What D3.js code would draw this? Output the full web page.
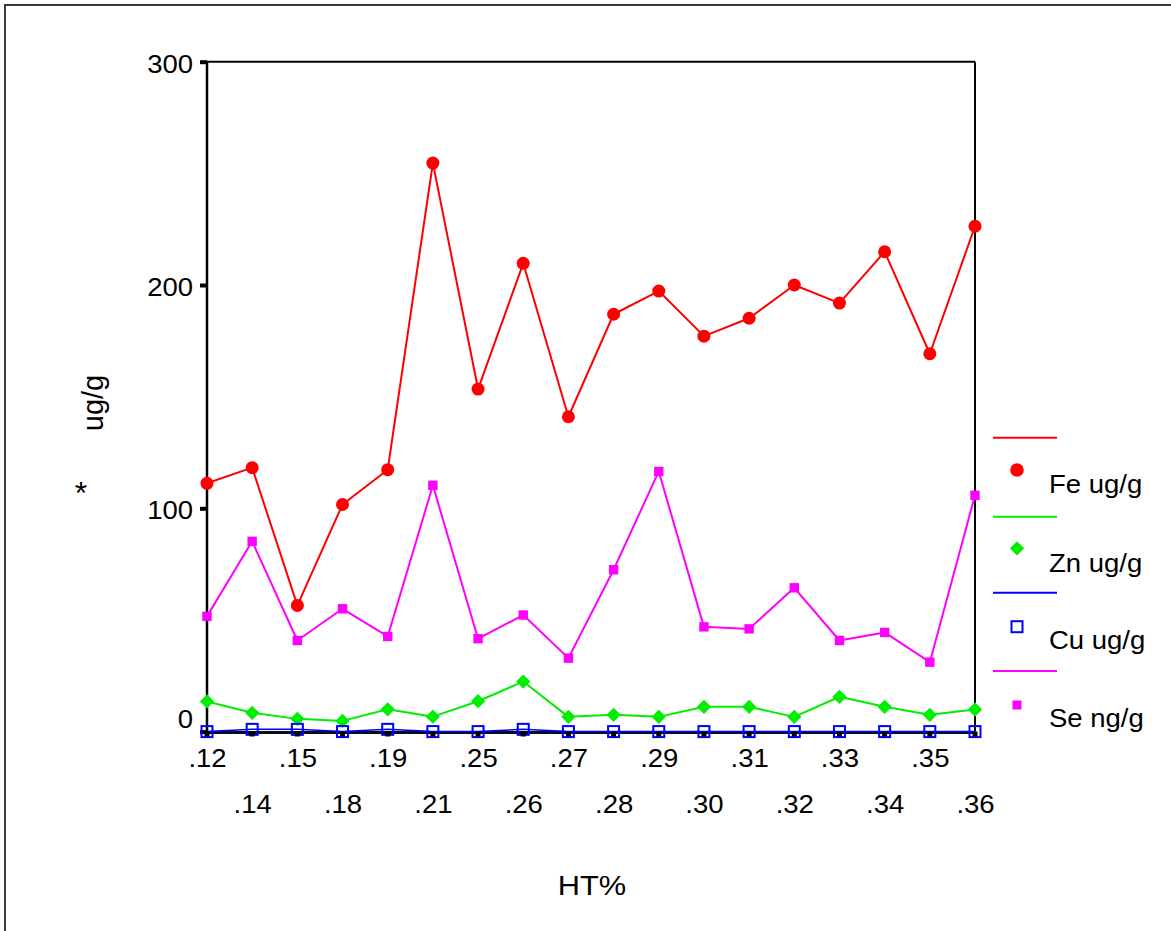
<!DOCTYPE html>
<html><head><meta charset="utf-8">
<script src="https://cdn.jsdelivr.net/npm/d3@7"></script>
<style>
body{margin:0;background:#fff;}
svg text{font-family:Arial,"Liberation Sans",sans-serif;font-size:25px;fill:#000;}
.sx{transform-box:fill-box;transform:scaleX(1.1);}
.sx-mid{transform-origin:center;}
.sx-end{transform-origin:right;}
.sx-start{transform-origin:left;}
</style></head><body>
<svg id="c" width="1171" height="931"></svg>
<script>
const categories = [".12",".14",".15",".18",".19",".21",".25",".26",".27",".28",".29",".30",".31",".32",".33",".34",".35",".36"];
const feVals = [111.2,118.2,56.5,101.7,117.3,254.6,153.4,209.7,141.0,186.9,197.3,177.1,185.1,200.0,191.9,214.9,169.2,226.3];
const znVals = [13.5,8.4,5.7,4.8,10.0,6.7,13.6,22.4,6.6,7.5,6.6,11.1,11.1,6.6,15.6,11.1,7.5,9.9];
const cuVals = [0,1,1,0,1,0,0,1,0,0,0,0,0,0,0,0,0,0];
const seVals = [51.6,85.2,40.8,55.0,42.6,110.3,41.6,52.2,32.9,72.5,116.5,46.9,46.0,64.4,40.8,44.4,31.1,105.8];
const starVals = [-0.4,-0.4,-0.4,-0.4,-0.4,-0.4,-0.4,-0.4,-0.4,-0.4,-0.4,-0.4,-0.4,-0.4,-0.4,-0.4,-0.4,-0.4];
const yTicks = [0,100,200,300];
const legendNames = ["Fe ug/g","Zn ug/g","Cu ug/g","Se ng/g"];
const colors = ["#ff0000","#00ee00","#0000ff","#ff00ff"];

const svg = d3.select("#c");
const L=207, R=975, T=61.7, B=731.6;
const x = d3.scalePoint().domain(categories).range([L,R]);
const y = d3.scaleLinear().domain([0,300]).range([B,T]);
const FONT = "Arial, 'Liberation Sans', sans-serif";

// outer frame
svg.append("rect").attr("x",5).attr("y",5).attr("width",1300).attr("height",1100)
  .attr("fill","none").attr("stroke","#3a3a3a").attr("stroke-width",2);

// plot frame
svg.append("line").attr("x1",L).attr("x2",R).attr("y1",T).attr("y2",T).attr("stroke","#000").attr("stroke-width",2);
svg.append("line").attr("x1",R).attr("x2",R).attr("y1",T).attr("y2",B).attr("stroke","#000").attr("stroke-width",2);
svg.append("line").attr("x1",L).attr("x2",L).attr("y1",T).attr("y2",B).attr("stroke","#000").attr("stroke-width",2.5);

// y axis
const ya = svg.append("g").attr("transform",`translate(${L},0)`)
  .call(d3.axisLeft(y).tickValues(yTicks).tickSize(7).tickPadding(7).tickFormat(d3.format("d")));
ya.select(".domain").remove();
ya.selectAll(".tick line").attr("stroke","#000").attr("stroke-width",4);
ya.selectAll(".tick text").attr("dy","0.42em").attr("class","sx sx-end")
  .style("font-size","25px").style("font-family",FONT);
ya.selectAll(".tick text").filter(d=>d===0).attr("y",-15);

// x axis labels
const xa = svg.append("g").attr("transform",`translate(0,${B})`)
  .call(d3.axisBottom(x).tickSize(0));
xa.select(".domain").remove();
xa.selectAll(".tick text").attr("dy",0).attr("y",(d,i)=> i%2 ? 81 : 35)
  .attr("class","sx sx-mid")
  .style("font-size","25px").style("font-family",FONT);

// titles
svg.append("text").attr("x",592).attr("y",895).attr("text-anchor","middle").attr("class","sx sx-mid").style("font-size","28px").text("HT%");
svg.append("text").attr("transform","translate(103,403) rotate(-90)").attr("text-anchor","middle").style("font-size","29px").text("ug/g");
svg.append("text").attr("x",81).attr("y",504).attr("text-anchor","middle").style("font-size","32px").text("*");

const line = d3.line().x((d,i)=>x(categories[i])).y(d=>y(d));
function drawLine(vals,color,w){
  svg.append("path").datum(vals).attr("d",line).attr("fill","none").attr("stroke",color).attr("stroke-width",w).attr("stroke-linejoin","round");
}
// Fe
drawLine(feVals,colors[0],2);
svg.append("g").selectAll("circle").data(feVals).join("circle")
  .attr("cx",(d,i)=>x(categories[i])).attr("cy",d=>y(d)).attr("r",6.5).attr("fill",colors[0]);
// Zn
drawLine(znVals,colors[1],2);
const dia = d3.symbol().type(d3.symbolDiamond2).size(130);
svg.append("g").selectAll("path").data(znVals).join("path")
  .attr("d",dia).attr("transform",(d,i)=>`translate(${x(categories[i])},${y(d)})`).attr("fill",colors[1]);
// Se
drawLine(seVals,colors[3],2);
svg.append("g").selectAll("rect").data(seVals).join("rect")
  .attr("x",(d,i)=>x(categories[i])-4.7).attr("y",d=>y(d)-4.7).attr("width",9.4).attr("height",9.4).attr("fill",colors[3]);
// star series (black baseline)
drawLine(starVals,"#0a0a20",3);
// Cu
drawLine(cuVals,colors[2],1.5);
svg.append("g").selectAll("rect").data(cuVals).join("rect")
  .attr("x",(d,i)=>x(categories[i])-5.5).attr("y",d=>y(d)-5.5).attr("width",11).attr("height",11)
  .attr("fill","none").attr("stroke",colors[2]).attr("stroke-width",2);
svg.append("g").selectAll("rect").data(starVals).join("rect")
  .attr("x",(d,i)=>x(categories[i])-2.5).attr("y",d=>y(d)-1).attr("width",5).attr("height",5).attr("fill","#000");

// legend
const legLineY=[437.7,516.7,592.7,671], legMarkY=[470,548.3,626.7,705], legTextY=[493,572,649,727];
const lg = svg.append("g");
legendNames.forEach((n,i)=>{
  lg.append("line").attr("x1",993).attr("x2",1057).attr("y1",legLineY[i]).attr("y2",legLineY[i]).attr("stroke",colors[i]).attr("stroke-width",2);
  if(i===0) lg.append("circle").attr("cx",1017).attr("cy",legMarkY[i]).attr("r",6.8).attr("fill",colors[0]);
  if(i===1) lg.append("path").attr("d",dia).attr("transform",`translate(1017,${legMarkY[i]})`).attr("fill",colors[1]);
  if(i===2) lg.append("rect").attr("x",1011.5).attr("y",legMarkY[i]-5.5).attr("width",11).attr("height",11).attr("fill","none").attr("stroke",colors[2]).attr("stroke-width",2);
  if(i===3) lg.append("rect").attr("x",1012.5).attr("y",legMarkY[i]-4.5).attr("width",9).attr("height",9).attr("fill",colors[3]);
  lg.append("text").attr("x",1049).attr("y",legTextY[i]).attr("class","sx sx-start").text(n);
});
</script>
</body></html>
